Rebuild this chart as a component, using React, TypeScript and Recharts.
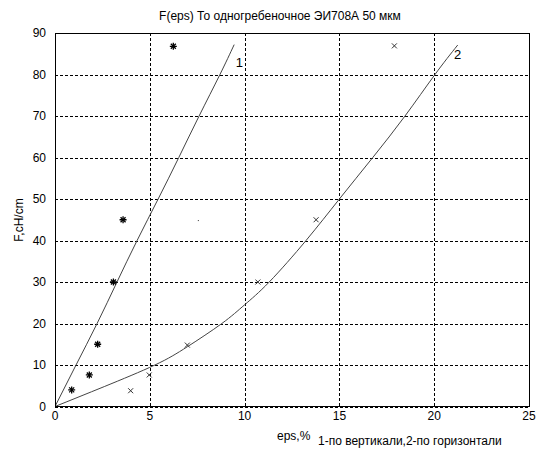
import React from "react";
import {
  ComposedChart,
  Line,
  Scatter,
  XAxis,
  YAxis,
  CartesianGrid,
  ReferenceArea,
} from "recharts";

// measured points, 1 - vertical, 2 - horizontal
const vertPoints = [
  { x: 0.88, y: 4 },
  { x: 1.81, y: 7.6 },
  { x: 2.25, y: 15 },
  { x: 3.08, y: 30 },
  { x: 3.59, y: 45 },
  { x: 6.24, y: 86.8 },
];
const horizPoints = [
  { x: 3.99, y: 3.8 },
  { x: 4.97, y: 7.6 },
  { x: 6.98, y: 14.8 },
  { x: 10.7, y: 30 },
  { x: 13.77, y: 45 },
  { x: 17.9, y: 86.9 },
];
const strayDot = [{ x: 7.56, y: 44.8 }];

// fitted curves
const vertCurve = [
  { x: 0, y: 0 },
  { x: 1.11, y: 10 },
  { x: 2.22, y: 20 },
  { x: 3.27, y: 30 },
  { x: 4.33, y: 40 },
  { x: 5.44, y: 50 },
  { x: 6.53, y: 60 },
  { x: 7.6, y: 70 },
  { x: 8.7, y: 80 },
  { x: 9.45, y: 87.2 },
];
const horizCurve = [
  { x: 0, y: 0 },
  { x: 2.6, y: 4.8 },
  { x: 5.27, y: 10 },
  { x: 6.98, y: 14.4 },
  { x: 8.8, y: 20 },
  { x: 10, y: 24.5 },
  { x: 11.3, y: 30 },
  { x: 13.24, y: 40 },
  { x: 15, y: 50 },
  { x: 16.76, y: 60 },
  { x: 18.46, y: 70 },
  { x: 20.04, y: 80 },
  { x: 21.24, y: 87.1 },
];
const curveLabels = [
  { x: 9.73, y: 83, text: "1" },
  { x: 21.23, y: 84.9, text: "2" },
];

const xTicks = [0, 5, 10, 15, 20, 25];
const yTicks = [0, 10, 20, 30, 40, 50, 60, 70, 80, 90];

const font = "'Liberation Sans', Arial, sans-serif";

const gridLine = (props: any) => {
  const { x1, y1, x2, y2, index } = props;
  const r = (v: number) => Math.round(v) + 0.5;
  const vertical = x1 === x2;
  return (
    <line
      key={`g-${vertical ? "v" : "h"}-${index}-${x1}-${y1}`}
      x1={vertical ? r(x1) : x1}
      x2={vertical ? r(x2) : x2}
      y1={vertical ? y1 : r(y1)}
      y2={vertical ? y2 : r(y2)}
      stroke="#000"
      strokeWidth={1}
      strokeDasharray="3 2"
      shapeRendering="crispEdges"
    />
  );
};

const Star = (props: any) => {
  const { cx, cy } = props;
  const r = 3.5;
  return (
    <g stroke="#000" strokeWidth={1.3}>
      <line x1={cx - r} y1={cy} x2={cx + r} y2={cy} />
      <line x1={cx} y1={cy - r} x2={cx} y2={cy + r} />
      <line x1={cx - 2.5} y1={cy - 2.5} x2={cx + 2.5} y2={cy + 2.5} />
      <line x1={cx - 2.5} y1={cy + 2.5} x2={cx + 2.5} y2={cy - 2.5} />
    </g>
  );
};

const Cross = (props: any) => {
  const { cx, cy } = props;
  const r = 2.5;
  return (
    <g stroke="#333" strokeWidth={1}>
      <line x1={cx - r} y1={cy - r} x2={cx + r} y2={cy + r} />
      <line x1={cx - r} y1={cy + r} x2={cx + r} y2={cy - r} />
    </g>
  );
};

const Dot = (props: any) => {
  const { cx, cy } = props;
  return <rect x={cx - 0.5} y={cy - 0.5} width={1} height={1} fill="#333" />;
};

const CurveLabel = (props: any) => {
  const { cx, cy, payload } = props;
  return (
    <text
      x={cx}
      y={cy}
      textAnchor="middle"
      dominantBaseline="central"
      fontSize={13}
      fontFamily={font}
      fill="#000"
    >
      {payload.text}
    </text>
  );
};

export default function App() {
  return (
    <div
      style={{
        position: "absolute",
        left: 0,
        top: 0,
        width: 536,
        height: 452,
        background: "#fff",
        fontFamily: font,
        color: "#000",
      }}
    >
      <div
        style={{
          position: "absolute",
          left: 0,
          width: 560,
          top: 9,
          textAlign: "center",
          fontSize: 12,
        }}
      >
        F(eps) То одногребеночное ЭИ708А 50 мкм
      </div>
      <div
        style={{
          position: "absolute",
          left: 19,
          top: 220,
          fontSize: 12,
          transform: "translate(-50%, -50%) rotate(-90deg)",
          whiteSpace: "nowrap",
        }}
      >
        F,cH/cm
      </div>
      <div style={{ position: "absolute", left: 277, top: 429, fontSize: 12 }}>eps,%</div>
      <div style={{ position: "absolute", left: 318, top: 434, fontSize: 12 }}>
        1-по вертикали,2-по горизонтали
      </div>
      <ComposedChart
        width={536}
        height={452}
        margin={{ top: 33, right: 7, bottom: 25.5, left: 0 }}
      >
        <CartesianGrid horizontal={gridLine} vertical={gridLine} />
        <XAxis
          type="number"
          dataKey="x"
          domain={[0, 25]}
          ticks={xTicks}
          height={20}
          tickSize={0}
          tickMargin={5}
          axisLine={{ stroke: "#000", shapeRendering: "crispEdges" }}
          tick={{ fill: "#000", fontSize: 12, fontFamily: font }}
          allowDataOverflow
        />
        <YAxis
          type="number"
          dataKey="y"
          domain={[0, 90]}
          ticks={yTicks}
          width={55}
          tickSize={0}
          tickMargin={9}
          axisLine={{ stroke: "#000", shapeRendering: "crispEdges" }}
          tick={{ fill: "#000", fontSize: 12, fontFamily: font }}
          allowDataOverflow
        />
        <ReferenceArea
          x1={0}
          x2={25}
          y1={0}
          y2={90}
          fill="none"
          stroke="#000"
          strokeWidth={1}
          shapeRendering="crispEdges"
        />
        <Line
          data={vertCurve}
          dataKey="y"
          type="natural"
          stroke="#444"
          strokeWidth={1}
          dot={false}
          isAnimationActive={false}
        />
        <Line
          data={horizCurve}
          dataKey="y"
          type="natural"
          stroke="#444"
          strokeWidth={1}
          dot={false}
          isAnimationActive={false}
        />
        <Scatter data={vertPoints} shape={Star} isAnimationActive={false} />
        <Scatter data={horizPoints} shape={Cross} isAnimationActive={false} />
        <Scatter data={strayDot} shape={Dot} isAnimationActive={false} />
        <Scatter data={curveLabels} shape={CurveLabel} isAnimationActive={false} />
      </ComposedChart>
    </div>
  );
}
